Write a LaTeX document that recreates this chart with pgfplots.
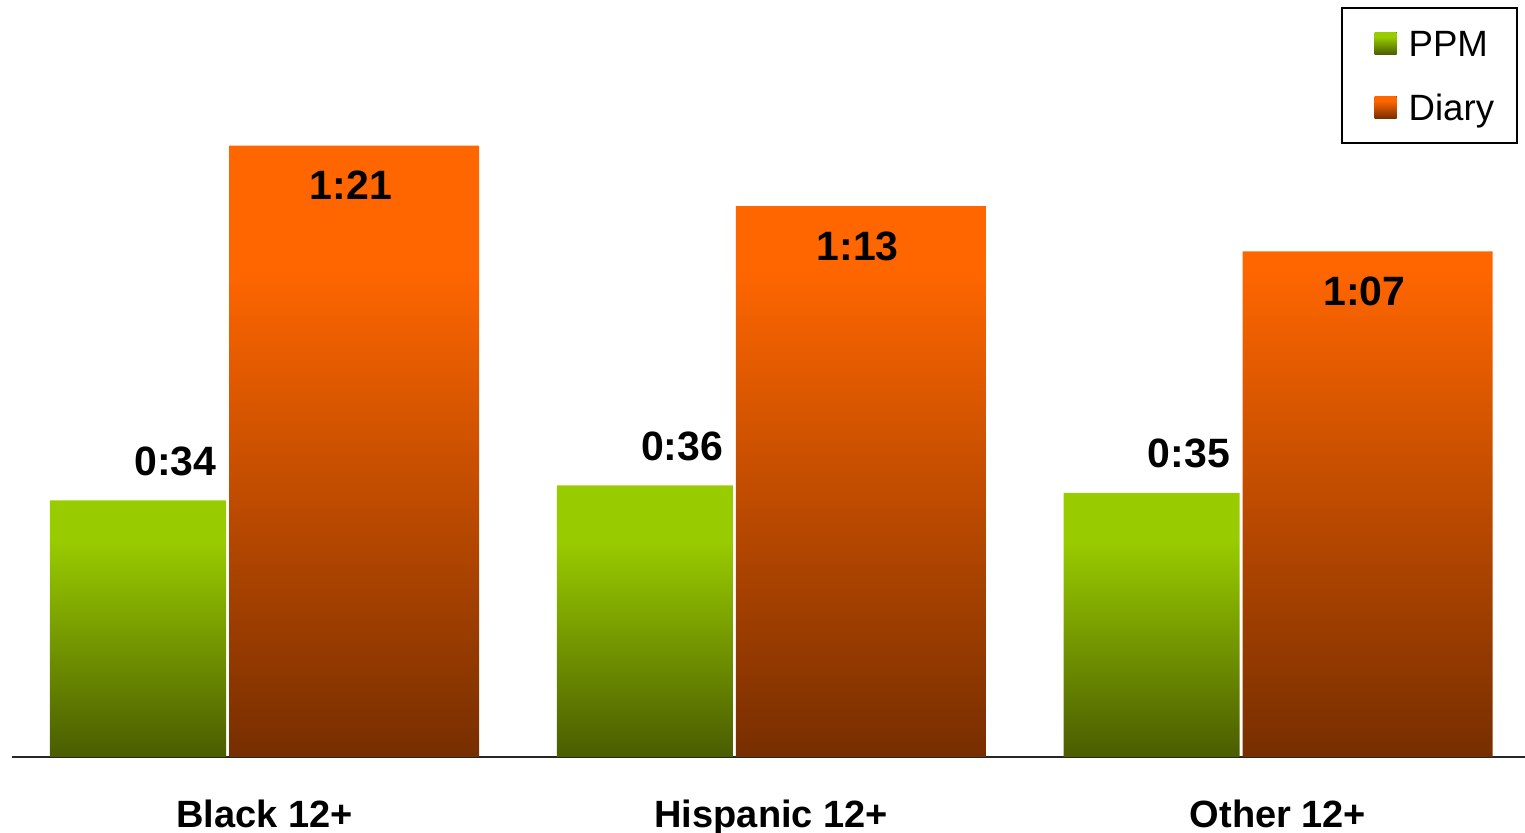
\documentclass[border=0pt]{standalone}
\usepackage{fontspec}
\setmainfont{Liberation Sans}
\usepackage{pgfplots}
\pgfplotsset{compat=1.18}
\definecolor{gtop}{HTML}{99CC00}
\definecolor{gbot}{HTML}{4A5C00}
\definecolor{otop}{HTML}{FF6600}
\definecolor{obot}{HTML}{772E00}
\pgfdeclareverticalshading{greenbar}{100bp}{color(0bp)=(gbot); color(25bp)=(gbot); color(65bp)=(gtop); color(100bp)=(gtop)}
\pgfdeclareverticalshading{orangebar}{100bp}{color(0bp)=(obot); color(25bp)=(obot); color(65bp)=(otop); color(100bp)=(otop)}
\begin{document}
\begin{tikzpicture}
\useasboundingbox (-6pt,-38pt) rectangle (756.5pt,378.5pt);
\begin{axis}[
  at={(0pt,0pt)}, anchor=south west,
  scale only axis, width=756.5pt, height=378.5pt,
  xmin=-0.49827, xmax=2.48742, ymin=0, ymax=100.3,
  axis x line=bottom, axis y line=none,
  x axis line style={-, line width=1.1pt, black!85},
  xtick={0,1,2}, xticklabels={Black 12+, Hispanic 12+, Other 12+},
  major tick length=0pt,
  xticklabel style={anchor=base, yshift=-35.5pt, font=\fontsize{19}{22}\selectfont\bfseries},
  legend style={at={(rel axis cs:0.9954,0.9908)}, anchor=north east, draw=black, line width=1pt,
    font=\fontsize{18.3}{22}\selectfont, inner xsep=9.5pt, inner ysep=5pt, row sep=6.5pt,
    nodes={inner sep=2pt, text height=17.5pt, text depth=4pt},
    /tikz/every odd column/.append style={column sep=4pt}},
  legend cell align=left,
  legend image code/.code={\path (0pt,0pt); \fill[#1] (7pt,-5.5pt) rectangle (18pt,5.5pt);},
]
\addplot[ybar, bar width=88pt, bar shift=-63.25pt, draw=none, shading=greenbar,
  nodes near coords, point meta=explicit symbolic,
  nodes near coords style={anchor=base, yshift=12.5pt, xshift=-44.55pt, text=black, font=\fontsize{20.5}{24}\selectfont\bfseries}]
  coordinates {(0,34) [0:34] (1,36) [0:36] (2,35) [0:35]};
\addlegendentry{PPM}
\addplot[ybar, bar width=125pt, bar shift=44.75pt, draw=none, shading=orangebar,
  nodes near coords, point meta=explicit symbolic,
  nodes near coords style={anchor=base, yshift=-27pt, xshift=43.25pt, text=black, font=\fontsize{20.5}{24}\selectfont\bfseries}]
  coordinates {(0,81) [1:21] (1,73) [1:13] (2,67) [1:07]};
\addlegendentry{Diary}
\end{axis}
\end{tikzpicture}
\end{document}
